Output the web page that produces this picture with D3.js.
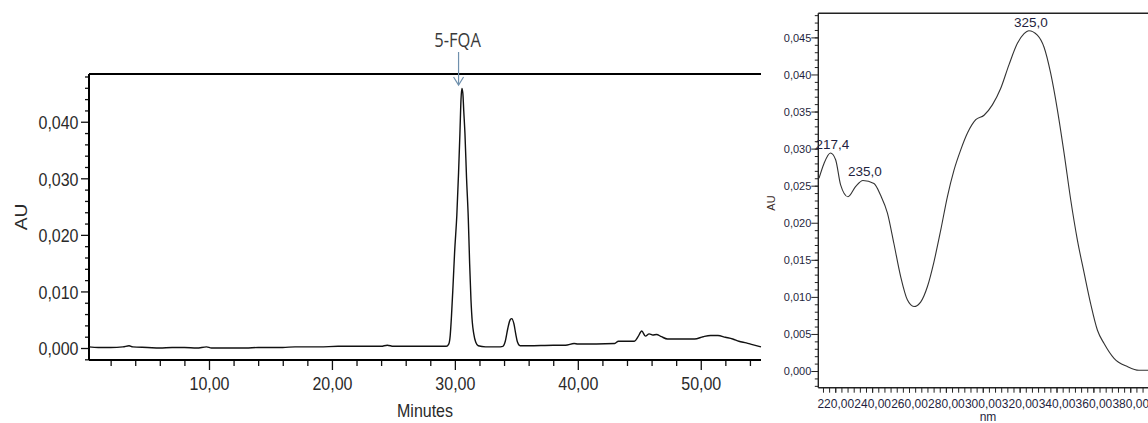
<!DOCTYPE html>
<html>
<head>
<meta charset="utf-8">
<script src="https://cdn.jsdelivr.net/npm/d3@7"></script>
<style>
  html, body { margin: 0; padding: 0; background: #fff; }
  svg { display: block; }
</style>
</head>
<body>
<svg id="chart" width="1148" height="423"></svg>
<script>
// ---------- Chromatogram data (left) ----------
const chromTime = [0.24, 1.0, 2.0, 3.0, 3.5, 3.8, 5.0, 6.0, 7.0, 8.0, 9.0, 9.8, 10.2, 12.0, 13.0, 14.0, 15.0, 16.0,
  17.0, 18.0, 19.0, 20.5, 22.0, 24.0, 24.5, 25.0, 27.0, 29.0, 29.3, 29.5, 29.62, 29.72, 29.85, 29.98, 30.16, 30.3, 30.41,
  30.5, 30.57, 30.65, 30.72, 30.82, 30.95, 31.09, 31.2, 31.31, 31.42, 31.53, 31.7, 31.9, 32.5, 33.0, 33.5, 33.9,
  34.1, 34.3, 34.5, 34.63, 34.8, 34.95, 35.1, 35.3, 36.0, 38.0, 39.0, 39.7, 40.0, 43.0, 43.3, 44.6, 44.9, 45.2,
  45.5, 45.8, 46.1, 46.4, 46.8, 47.3, 49.5, 50.2, 50.8, 51.4, 52.0, 52.6, 53.1, 53.7, 54.2, 54.9];
const chromAU = [0.0002, 0.0001, 0.0001, 0.0002, 0.0004, 0.0002, 0.0001, 0.0000, 0.0001, 0.0001, 0.0000, 0.0002, 0.0000, 0.0000, 0.0000, 0.0001, 0.0001, 0.0001,
  0.0002, 0.0002, 0.0002, 0.0003, 0.0003, 0.0003, 0.0005, 0.0003, 0.0003, 0.0003, 0.0003, 0.0007, 0.0022, 0.0055, 0.0110, 0.0170, 0.0235, 0.0310, 0.0379,
  0.0440, 0.0459, 0.0450, 0.0420, 0.0379, 0.0300, 0.0230, 0.0150, 0.0085, 0.0045, 0.0026, 0.0010, 0.0004, 0.0002, 0.0002, 0.0002, 0.0003,
  0.0012, 0.0034, 0.0050, 0.0052, 0.0043, 0.0025, 0.0010, 0.0004, 0.0004, 0.0005, 0.0005, 0.0008, 0.0007, 0.0008, 0.0012, 0.0012, 0.0020, 0.0030,
  0.0021, 0.0025, 0.0023, 0.0024, 0.0020, 0.0016, 0.0016, 0.0020, 0.0022, 0.0022, 0.0019, 0.0016, 0.0012, 0.0009, 0.0006, 0.0002];
const chromXTicks = [10, 20, 30, 40, 50];
const chromXTickLabels = ["10,00", "20,00", "30,00", "40,00", "50,00"];
const chromYTicks = [0, 0.01, 0.02, 0.03, 0.04];
const chromYTickLabels = ["0,000", "0,010", "0,020", "0,030", "0,040"];
const chromAnnotText = ["5-FQA"];
const chromAnnotTime = [30.3];

// ---------- UV spectrum data (right) ----------
const specNm = [211.2, 213.9, 217.4, 220.2, 222.9, 226.9, 231.1, 235.0, 241.0, 244.6, 248.3, 251.8, 255.5, 259.1,
  262.7, 266.3, 270.0, 273.5, 277.2, 280.8, 284.4, 288.0, 291.7, 296.2, 300.7, 305.2, 309.7, 314.2, 318.8, 322.4,
  325.0, 329.6, 333.2, 336.8, 340.5, 344.1, 347.7, 351.3, 355.0, 358.5, 362.2, 365.8, 371.2, 378.4, 384.7, 390.0];
const specAU = [0.0260, 0.0280, 0.0294, 0.0285, 0.0251, 0.0235, 0.0249, 0.0257, 0.0253, 0.0237, 0.0213, 0.0172, 0.0127, 0.0096,
  0.0087, 0.0093, 0.0114, 0.0147, 0.0190, 0.0235, 0.0271, 0.0298, 0.0321, 0.0339, 0.0345, 0.0359, 0.0381, 0.0413, 0.0442, 0.0455,
  0.0459, 0.0453, 0.0437, 0.0402, 0.0352, 0.0294, 0.0231, 0.0177, 0.0132, 0.0091, 0.0055, 0.0037, 0.0017, 0.0006, 0.0001, 0.0001];
const specXTicks = [220, 240, 260, 280, 300, 320, 340, 360, 380];
const specXTickLabels = ["220,00", "240,00", "260,00", "280,00", "300,00", "320,00", "340,00", "360,00", "380,00"];
const specYTicks = [0, 0.005, 0.01, 0.015, 0.02, 0.025, 0.03, 0.035, 0.04, 0.045];
const specYTickLabels = ["0,000", "0,005", "0,010", "0,015", "0,020", "0,025", "0,030", "0,035", "0,040", "0,045"];
const specPeakLabels = ["217,4", "235,0", "325,0"];
const specPeakNm = [217.4, 235.0, 325.0];
const specPeakAU = [0.0294, 0.0257, 0.0459];

// ---------- drawing ----------
const svg = d3.select("#chart");
svg.append("rect").attr("width", 1148).attr("height", 423).attr("fill", "#fff");

// ===== Left chromatogram =====
const L = { left: 89, right: 761, top: 74, bottom: 360 };
const xL = d3.scaleLinear().domain([0.24, 54.9]).range([L.left, L.right]);
const yL = d3.scaleLinear().domain([-0.00212, 0.04844]).range([L.bottom, L.top]);
const leftFont = "'Liberation Sans', Arial, sans-serif";
const leftText = "#2a2a2a";

const gL = svg.append("g");

// minor x ticks
const xMinorL = d3.range(2, 55, 2).filter(v => chromXTicks.indexOf(v) < 0);
gL.append("g").attr("transform", `translate(0,${L.bottom})`)
  .call(d3.axisBottom(xL).tickValues(xMinorL).tickSize(6).tickSizeOuter(0).tickFormat(""))
  .call(g => g.select(".domain").remove())
  .call(g => g.selectAll("line").attr("stroke", "#111").attr("stroke-width", 1.3));
// major x ticks
const xAxL = gL.append("g").attr("transform", `translate(0,${L.bottom})`)
  .call(d3.axisBottom(xL).tickValues(chromXTicks).tickSize(10).tickSizeOuter(0)
    .tickFormat((d, i) => chromXTickLabels[i]));
xAxL.select(".domain").remove();
xAxL.selectAll("line").attr("stroke", "#111").attr("stroke-width", 1.3);
xAxL.selectAll("text")
  .attr("y", 25).attr("dy", 0)
  .attr("transform", "scale(1,1.2)")
  .attr("fill", leftText)
  .style("font-family", leftFont).style("font-size", "16px");

// minor y ticks
const yMinorL = d3.range(-2, 49, 2).map(v => v / 1000).filter(v => Math.abs(v * 100 - Math.round(v * 100)) > 1e-6);
gL.append("g").attr("transform", `translate(${L.left},0)`)
  .call(d3.axisLeft(yL).tickValues(yMinorL).tickSize(4).tickSizeOuter(0).tickFormat(""))
  .call(g => g.select(".domain").remove())
  .call(g => g.selectAll("line").attr("stroke", "#111").attr("stroke-width", 1.3));
// major y ticks
const yAxL = gL.append("g").attr("transform", `translate(${L.left},0)`)
  .call(d3.axisLeft(yL).tickValues(chromYTicks).tickSize(8).tickSizeOuter(0)
    .tickFormat((d, i) => chromYTickLabels[i]));
yAxL.select(".domain").remove();
yAxL.selectAll("line").attr("stroke", "#111").attr("stroke-width", 1.3);
yAxL.selectAll("text")
  .attr("x", -10.5).attr("y", 5.6).attr("dy", 0)
  .attr("transform", "scale(1,1.2)")
  .attr("fill", leftText)
  .style("font-family", leftFont).style("font-size", "16px");

// frame lines: left axis, bottom axis, top line
gL.append("line").attr("x1", L.left).attr("x2", L.left).attr("y1", L.top).attr("y2", L.bottom)
  .attr("stroke", "#000").attr("stroke-width", 2);
gL.append("line").attr("x1", L.left).attr("x2", L.right).attr("y1", L.bottom).attr("y2", L.bottom)
  .attr("stroke", "#000").attr("stroke-width", 2);
gL.append("line").attr("x1", L.left).attr("x2", L.right).attr("y1", L.top).attr("y2", L.top)
  .attr("stroke", "#000").attr("stroke-width", 2);

// trace
const chromData = chromTime.map((t, i) => [t, chromAU[i]]);
gL.append("path").datum(chromData)
  .attr("fill", "none").attr("stroke", "#111").attr("stroke-width", 1.4)
  .attr("d", d3.line().x(d => xL(d[0])).y(d => yL(d[1])).curve(d3.curveMonotoneX));

// axis titles
gL.append("text").attr("transform", `translate(425,417) scale(1,1.2)`)
  .attr("text-anchor", "middle").attr("fill", leftText)
  .style("font-family", leftFont).style("font-size", "16px").text("Minutes");
gL.append("text").attr("transform", `translate(27,217) rotate(-90) scale(1.2,1)`)
  .attr("text-anchor", "middle").attr("fill", leftText)
  .style("font-family", leftFont).style("font-size", "16px").text("AU");

// annotation
chromAnnotText.forEach((txt, i) => {
  const ax = xL(chromAnnotTime[i]);
  gL.append("text").attr("transform", `translate(${ax - 1},47) scale(1,1.2)`)
    .attr("text-anchor", "middle").attr("fill", "#3a3a3a")
    .style("font-family", "'Open Sans', sans-serif").style("font-size", "16.5px").text(txt);
  gL.append("line").attr("x1", ax).attr("x2", ax).attr("y1", 52).attr("y2", 85)
    .attr("stroke", "#6f90ad").attr("stroke-width", 1.2);
  gL.append("path").attr("d", `M${ax - 5},77 L${ax},85 L${ax + 5},77`)
    .attr("fill", "none").attr("stroke", "#6f90ad").attr("stroke-width", 1.2);
});

// ===== Right UV spectrum =====
const R = { left: 818.3, right: 1148.7, top: 13.3, bottom: 387.7 };
const xR = d3.scaleLinear().domain([210.8, 390]).range([R.left, R.right]);
const yR = d3.scaleLinear().domain([-0.00225, 0.04825]).range([R.bottom, R.top]);
const rightFont = "'Liberation Sans', Arial, sans-serif";
const rightText = "#1f1f40";
const gR = svg.append("g");

// x ticks (minor spacing of one sixth of 20 nm)
const xMinorR = d3.range(-3, 54).map(k => 220 + k * 20 / 6).filter(v => v > 211 && v < 390);
gR.append("g").attr("transform", `translate(0,${R.bottom})`)
  .call(d3.axisBottom(xR).tickValues(xMinorR).tickSize(5).tickSizeOuter(0).tickFormat(""))
  .call(g => g.select(".domain").remove())
  .call(g => g.selectAll("line").attr("stroke", "#222").attr("stroke-width", 1));
const xAxR = gR.append("g").attr("transform", `translate(0,${R.bottom})`)
  .call(d3.axisBottom(xR).tickValues(specXTicks).tickSize(5).tickSizeOuter(0)
    .tickFormat((d, i) => specXTickLabels[i]));
xAxR.select(".domain").remove();
xAxR.selectAll("line").attr("stroke", "#222").attr("stroke-width", 1);
xAxR.selectAll("text").attr("y", 20).attr("dy", 0).attr("fill", rightText)
  .style("font-family", rightFont).style("font-size", "12px");

// y ticks
const yMinorR = d3.range(-2, 49).map(v => v / 1000).filter(v => v % 0.005 !== 0);
gR.append("g").attr("transform", `translate(${R.left},0)`)
  .call(d3.axisLeft(yR).tickValues(yMinorR).tickSize(3.5).tickSizeOuter(0).tickFormat(""))
  .call(g => g.select(".domain").remove())
  .call(g => g.selectAll("line").attr("stroke", "#222").attr("stroke-width", 1));
const yAxR = gR.append("g").attr("transform", `translate(${R.left},0)`)
  .call(d3.axisLeft(yR).tickValues(specYTicks).tickSize(7).tickSizeOuter(0)
    .tickFormat((d, i) => specYTickLabels[i]));
yAxR.select(".domain").remove();
yAxR.selectAll("line").attr("stroke", "#222").attr("stroke-width", 1);
yAxR.selectAll("text").attr("x", -7).attr("dy", "0.35em").attr("fill", rightText)
  .style("font-family", rightFont).style("font-size", "11px");

// frame
gR.append("line").attr("x1", R.left).attr("x2", R.left).attr("y1", R.top).attr("y2", R.bottom)
  .attr("stroke", "#222").attr("stroke-width", 1.4);
gR.append("line").attr("x1", R.left).attr("x2", 1148).attr("y1", R.bottom).attr("y2", R.bottom)
  .attr("stroke", "#222").attr("stroke-width", 1.4);
gR.append("line").attr("x1", R.left).attr("x2", 1148).attr("y1", R.top).attr("y2", R.top)
  .attr("stroke", "#222").attr("stroke-width", 1.4);

// trace
const specData = specNm.map((n, i) => [n, specAU[i]]);
gR.append("path").datum(specData)
  .attr("fill", "none").attr("stroke", "#333").attr("stroke-width", 1.1)
  .attr("d", d3.line().x(d => xR(d[0])).y(d => yR(d[1])).curve(d3.curveMonotoneX));

// peak labels
specPeakLabels.forEach((lab, i) => {
  gR.append("text").attr("x", xR(specPeakNm[i]) + 2).attr("y", yR(specPeakAU[i]) - 4)
    .attr("text-anchor", "middle").attr("fill", rightText)
    .style("font-family", rightFont).style("font-size", "13.5px").text(lab);
});

// axis titles
gR.append("text").attr("x", 988).attr("y", 421).attr("text-anchor", "middle").attr("fill", rightText)
  .style("font-family", rightFont).style("font-size", "12px").text("nm");
gR.append("text").attr("transform", "translate(775,203) rotate(-90)").attr("text-anchor", "middle")
  .attr("fill", "#3a2a25").style("font-family", rightFont).style("font-size", "11px").text("AU");
</script>
</body>
</html>
